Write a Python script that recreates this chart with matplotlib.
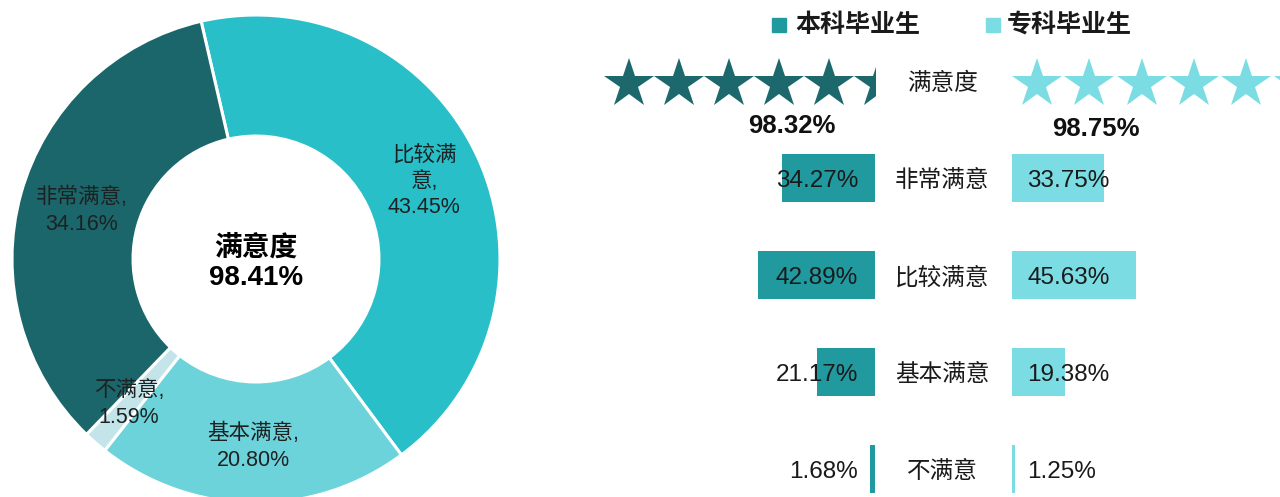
import matplotlib
matplotlib.use("Agg")
import matplotlib.pyplot as plt
from matplotlib.patches import Rectangle
import numpy as np

plt.rcParams['font.family'] = ['Liberation Sans', 'Noto Sans CJK SC', 'DejaVu Sans']

# ---------------- data ----------------
pie_names = ['比较满意', '基本满意', '不满意', '非常满意']
pie_display = ['比较满\n意', '基本满意', '不满意', '非常满意']
pie_values = [43.45, 20.80, 1.59, 34.16]
pie_colors = ['#29BFC8', '#6DD3DB', '#C3E5EA', '#1A666A']
overall_label = '满意度'
overall_value = 98.41

categories = ['非常满意', '比较满意', '基本满意', '不满意']
undergrad = [34.27, 42.89, 21.17, 1.68]
college = [33.75, 45.63, 19.38, 1.25]
series_names = ['本科毕业生', '专科毕业生']
series_colors = ['#219A9F', '#7BDDE3']
star_colors = ['#1C686C', '#7BDDE3']
star_values = [98.32, 98.75]

W, H = 1280, 497
fig = plt.figure(figsize=(12.8, 4.97), dpi=100)


def px_axes(x0, y0, w, h):
    """axes placed in top-down pixel coordinates"""
    return fig.add_axes([x0 / W, 1 - (y0 + h) / H, w / W, h / H])


# ---------------- donut ----------------
cx, cy, R = 256, 259, 244
axp = px_axes(cx - R, cy - R, 2 * R, 2 * R)
wedges, _ = axp.pie(pie_values, colors=pie_colors, startangle=103, counterclock=False,
                    radius=1, wedgeprops=dict(width=0.496, edgecolor='white', linewidth=2.2))
axp.set_xlim(-1, 1)
axp.set_ylim(-1, 1)
axp.axis('off')
label_r = [0.76, 0.77, 0.79, 0.74]
label_ls = [1.3, 1.35, 1.35, 1.35]
for w, name, val, r, ls in zip(wedges, pie_display, pie_values, label_r, label_ls):
    ang = np.deg2rad((w.theta1 + w.theta2) / 2)
    axp.text(r * np.cos(ang), r * np.sin(ang), f"{name},\n{val:.2f}%", ha='center', va='center',
             fontsize=15.5, color='#1c2222', linespacing=ls)
axp.text(0, 0.045, overall_label, ha='center', va='center', fontsize=20, fontweight='bold', color='black')
axp.text(0, -0.078, f"{overall_value:.2f}%", ha='center', va='center', fontsize=20,
         fontweight='bold', color='black')

# ---------------- bars ----------------
PX_PER_PCT = 2.72
bar_top = 129.5
bar_step = 97
n = len(categories)
ylo = -0.5 + (H - bar_top) / bar_step

axl = px_axes(875 - 100 * PX_PER_PCT, bar_top, 100 * PX_PER_PCT, H - bar_top)
axl.barh(range(n), undergrad, height=0.485, color=series_colors[0])
axl.set_xlim(100, 0)
axl.set_ylim(ylo, -0.5)
axl.axis('off')

axr = px_axes(1012, bar_top, 100 * PX_PER_PCT, H - bar_top)
axr.barh(range(n), college, height=0.485, color=series_colors[1])
axr.set_xlim(0, 100)
axr.set_ylim(ylo, -0.5)
axr.axis('off')

for i, (cat, u, c) in enumerate(zip(categories, undergrad, college)):
    axl.annotate(f"{u:.2f}%", xy=(0, i), xytext=(-12.2, -2.5), textcoords='offset points',
                 ha='right', va='center', fontsize=17.5, color='#1a1a1a', annotation_clip=False)
    axr.annotate(f"{c:.2f}%", xy=(0, i), xytext=(10.8, -2.5), textcoords='offset points',
                 ha='left', va='center', fontsize=17.5, color='#1a1a1a', annotation_clip=False)
    axl.annotate(cat, xy=(0, i), xytext=(48.2, -2.5), textcoords='offset points',
                 ha='center', va='center', fontsize=17, color='#1a1a1a', annotation_clip=False)

# ---------------- stars ----------------
STAR_PX = 275.6


def star_bar(x0, value, color, first, spacing):
    ax = px_axes(x0, 50, STAR_PX, 65)
    ax.set_xlim(0, 100)
    ax.set_ylim(65, 0)
    xs = [first + spacing * k for k in range(6)]
    line, = ax.plot(xs, [34] * 6, ls='none', marker='*', ms=37.4, color=color, mew=0)
    clip = Rectangle((0, 0), value, 65, transform=ax.transData)
    line.set_clip_path(clip)
    ax.axis('off')
    return ax


star_bar(604, star_values[0], star_colors[0], 9.07, 18.14)
star_bar(1012, star_values[1], star_colors[1], 9.07, 18.98)

# ---------------- overlay texts ----------------
base = fig.add_axes([0, 0, 1, 1])
base.set_xlim(0, W)
base.set_ylim(H, 0)
base.axis('off')

base.text(942, 84, overall_label, ha='center', va='center', fontsize=17, color='#1a1a1a')
base.text(792, 126, f"{star_values[0]:.2f}%", ha='center', va='center', fontsize=18.5,
          fontweight='bold', color='#111111')
base.text(1096, 129, f"{star_values[1]:.2f}%", ha='center', va='center', fontsize=18.5,
          fontweight='bold', color='#111111')

# legend
for (sx, tx), name, col in zip([(772, 795), (986, 1007)], series_names, series_colors):
    base.add_patch(Rectangle((sx, 18), 14, 14, color=col))
    base.text(tx, 25, name, ha='left', va='center', fontsize=18, fontweight='bold', color='#1a1a1a')

fig.savefig('out.png', dpi=100)
